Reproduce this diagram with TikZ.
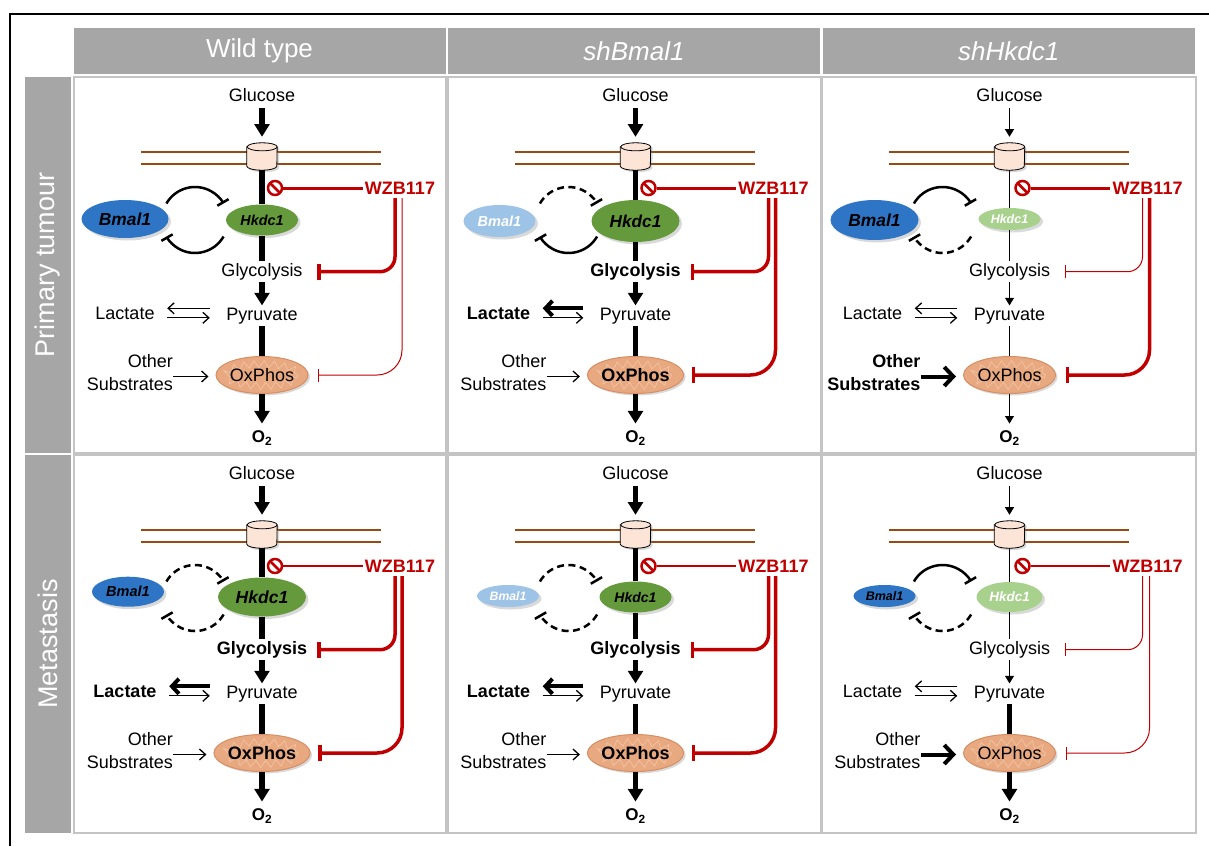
\documentclass[tikz,border=0pt]{standalone}
\usepackage{fontspec}
\setmainfont{Liberation Sans}
\usetikzlibrary{arrows.meta,shapes.geometric,shadows,decorations.pathmorphing}

\definecolor{headgray}{RGB}{166,166,166}
\definecolor{cellgray}{RGB}{196,196,196}
\definecolor{bmdark}{RGB}{46,117,197}
\definecolor{bmlight}{RGB}{157,195,230}
\definecolor{hkdark}{RGB}{100,154,60}
\definecolor{hklight}{RGB}{169,209,142}
\definecolor{wzbred}{RGB}{192,0,0}
\definecolor{membrane}{RGB}{150,75,20}
\definecolor{cylfill}{RGB}{252,228,214}
\definecolor{mitofill}{RGB}{232,168,128}
\definecolor{mitoedge}{RGB}{214,142,100}
\definecolor{mitoline}{RGB}{242,196,166}

\newcommand{\setfs}[1]{\fontsize{#1}{#1}\selectfont}

% one panel, origin at the Glucose label
\newcommand{\pathway}{%
  \draw[membrane, line width=2pt] (-121,-56.7) -- (119,-56.7);
  \draw[membrane, line width=2pt] (-121,-69) -- (119,-69);
  \node[minimum width=30pt, minimum height=27pt, inner sep=0pt] (cyl) at (0,-61.5) {};
  \draw[fill=cylfill, line width=0.8pt, drop shadow={shadow xshift=2pt, shadow yshift=-2pt, opacity=0.3}]
    ([yshift=-4pt]cyl.north west) -- ([yshift=4pt]cyl.south west)
    arc[start angle=180, end angle=360, x radius=15pt, y radius=4pt]
    -- ([yshift=-4pt]cyl.north east)
    arc[start angle=0, end angle=180, x radius=15pt, y radius=4pt] -- cycle;
  \draw[line width=0.8pt] ([yshift=-4pt]cyl.north east) arc[start angle=0, end angle=-180, x radius=15pt, y radius=4pt];
  \node[txt] (glc) at (0,0) {Glucose};
  \node[txt, glyT] (gly) at (0,-176.7) {Glycolysis};
  \node[txt] (pyr) at (0,-220.7) {Pyruvate};
  \node[txt, lacT] (lac) at (-137,-218.3) {Lactate};
  \node[mito, oxT] (ox) at (0,-280) {OxPhos};
  \node[subtxt, subT, align=right, anchor=east] (sub) at (-89,-278) {Other\\Substrates};
  \node[txt, font=\setfs{17}\bfseries] (o2) at (0,-343) {O\textsubscript{2}};
  \node[gene, bmal] (bm) {Bmal1};
  \node[gene, hkdc] (hk) {Hkdc1};
  \node[wzb] (wzb) at (138,-93) {WZB117};
  \node[stopsign] (stop) at (13,-93) {};
  % main flux
  \draw[fluxA, flow, shorten <=4pt, shorten >=6pt] (glc) -- (cyl);
  \draw[fluxA] (cyl) -- (hk);
  \draw[fluxA] (hk) -- (gly);
  \draw[fluxA, flow] (gly) -- (pyr);
  \draw[fluxB] (pyr) -- (ox);
  \draw[fluxB, flow, shorten >=5pt] (ox) -- (o2);
  % Bmal1 / Hkdc1 loop
  \coordinate (ring) at (-67,-125);
  \draw[ringline, loopA] ([shift={(150:33pt)}]ring) arc[start angle=150, end angle=30, radius=33pt];
  \draw[ringline, loopB] ([shift={(-30:33pt)}]ring) arc[start angle=-30, end angle=-150, radius=33pt];
  % lactate and substrates
  \draw[lacA, shorten <=14.5pt, shorten >=10.5pt] ([yshift=5pt]lac.east -| pyr.west) -- ([yshift=5pt]lac.east);
  \draw[barb, shorten <=10.5pt, shorten >=14.5pt] ([yshift=-4.5pt]lac.east) -- ([yshift=-4.5pt]lac.east -| pyr.west);
  \draw[subA, shorten >=7pt] ([yshift=-3.5pt]sub.east) -- ([yshift=-3.5pt]sub.east -| ox.west);
  % inhibitor
  \coordinate (rg) at (133,-103);
  \coordinate (ro) at (140,-103);
  \draw[redC] (stop) -- (wzb);
  \draw[redG, rounded corners=15pt] (rg) |- ([xshift=55pt]gly.center);
  \draw[redO, rounded corners=25pt] (ro) |- ([xshift=56pt]ox.center);
}

\begin{document}
\begin{tikzpicture}[x=1pt, y=1pt,
  txt/.style={font=\setfs{18}, inner sep=2pt},
  subtxt/.style={font=\fontsize{18}{23}\selectfont, inner sep=0pt},
  boldtxt/.style={font=\setfs{18}\bfseries},
  ef/.style={font=\setfs{#1}\bfseries\itshape},
  gene/.style={ellipse, inner sep=0pt, drop shadow={shadow xshift=2.5pt, shadow yshift=-2.5pt, opacity=0.3}},
  mito/.style={ellipse, fill=mitofill, draw=mitoedge, line width=1pt, inner sep=0pt,
    minimum width=92pt, minimum height=37pt, font=\setfs{18},
    drop shadow={shadow xshift=2pt, shadow yshift=-2pt, opacity=0.3},
    path picture={\draw[mitoline, line width=0.7pt, decorate, decoration={zigzag, segment length=10pt, amplitude=3.5pt}]
      (path picture bounding box.center) ellipse[x radius=36pt, y radius=11pt];}},
  head/.style={fill=headgray, text=white, inner sep=0pt, font=\setfs{26}, minimum height=46pt},
  rowhead/.style={fill=headgray, text=white, inner sep=0pt, font=\setfs{27}, minimum height=46pt, rotate=90},
  cell/.style={draw=cellgray, line width=1.5pt},
  flow/.style={-{Triangle[length=6pt 1.2, width=7pt 1.4]}},
  bigflux/.style={line width=5.5pt},
  smallflux/.style={line width=1.3pt},
  ringline/.style={line width=2.5pt, -{Bar[width=13pt]}},
  broken/.style={dash pattern=on 7pt off 4.5pt},
  barb/.style={line width=1.3pt, -{Straight Barb[length=6pt, width=11pt]}},
  heavybarb/.style={line width=4pt, -{Straight Barb[length=7pt, width=15pt]}},
  bigbarb/.style={line width=4pt, -{Straight Barb[length=9pt, width=19pt]}},
  redthick/.style={draw=wzbred, line width=3.5pt, -{Bar[width=16pt]}},
  redthin/.style={draw=wzbred, line width=1pt, -{Bar[width=13pt]}},
  stopsign/.style={circle, draw=wzbred, line width=2.5pt, minimum size=14pt, inner sep=0pt,
    path picture={\draw[wzbred, line width=2.5pt] (path picture bounding box.north west) -- (path picture bounding box.south east);}},
  wzb/.style={font=\setfs{18}\bfseries, text=wzbred, inner sep=2pt},
  % defaults for a panel
  loopA/.style={}, loopB/.style={},
  fluxA/.style={bigflux}, fluxB/.style={bigflux},
  glyT/.style={}, lacT/.style={}, oxT/.style={}, subT/.style={},
  lacA/.style={barb}, subA/.style={barb},
  redG/.style={redthick}, redO/.style={redthick},
  redC/.style={draw=wzbred, line width=3pt}]

\useasboundingbox (0,0) rectangle (1209,-846);
\draw[line width=2pt] (10,-846) -- (10,-14) -- (1209,-14);

% headers
\node[head, minimum width=372pt] (hwt) at (259.5,-51) {Wild type};
\node[head, minimum width=372pt] (hbm) at (634,-51) {\itshape shBmal1};
\node[head, minimum width=372pt] (hhk) at (1008.75,-51) {\itshape shHkdc1};
\node[rowhead, minimum width=376pt] (rpt) at (48,-265) {Primary tumour};
\node[rowhead, minimum width=378pt] (rmt) at (48,-644) {Metastasis};

\foreach \x/\X in {74/446, 448/821, 822/1196}
  \foreach \y/\Y in {77/453, 455/833}
    \draw[cell] (\x,-\y) rectangle (\X,-\Y);

% primary tumour
\begin{scope}[shift={(262,-95)}, redO/.style={redthin},
  bmal/.style={fill=bmdark, ef=17.4, minimum width=87pt, minimum height=38pt, at={(-137,-124)}},
  hkdc/.style={fill=hkdark, ef=14.4, minimum width=72pt, minimum height=31pt, at={(0,-125)}}]
\pathway
\end{scope}

\begin{scope}[shift={(635.5,-95)}, loopA/.style={broken},
  glyT/.style={boldtxt}, lacT/.style={boldtxt}, oxT/.style={boldtxt}, lacA/.style={heavybarb},
  bmal/.style={fill=bmlight, text=white, ef=14.5, minimum width=72pt, minimum height=32pt, at={(-136,-126)}},
  hkdc/.style={fill=hkdark, ef=17.2, minimum width=88pt, minimum height=42pt, at={(0,-126)}}]
\pathway
\end{scope}

\begin{scope}[shift={(1009.5,-95)}, loopB/.style={broken},
  fluxA/.style={smallflux}, fluxB/.style={smallflux},
  subT/.style={font=\fontsize{18}{23}\selectfont\bfseries}, subA/.style={bigbarb}, redG/.style={redthin},
  bmal/.style={fill=bmdark, ef=17.4, minimum width=88pt, minimum height=40pt, at={(-135,-125)}},
  hkdc/.style={fill=hklight, text=white, ef=12.5, minimum width=62pt, minimum height=22pt, at={(0,-124)}}]
\pathway
\end{scope}

% metastasis
\begin{scope}[shift={(262,-473)}, loopA/.style={broken}, loopB/.style={broken},
  glyT/.style={boldtxt}, lacT/.style={boldtxt}, oxT/.style={boldtxt}, lacA/.style={heavybarb},
  redC/.style={draw=wzbred, line width=2pt},
  bmal/.style={fill=bmdark, ef=14.5, minimum width=72pt, minimum height=30pt, at={(-134,-118.7)}},
  hkdc/.style={fill=hkdark, ef=17.5, minimum width=88pt, minimum height=39pt, at={(0,-124)}}]
\pathway
\end{scope}

\begin{scope}[shift={(635.5,-473)}, loopA/.style={broken}, loopB/.style={broken},
  glyT/.style={boldtxt}, lacT/.style={boldtxt}, oxT/.style={boldtxt}, lacA/.style={heavybarb},
  redC/.style={draw=wzbred, line width=2pt},
  bmal/.style={fill=bmlight, text=white, ef=12.2, minimum width=62pt, minimum height=22pt, at={(-127.5,-123)}},
  hkdc/.style={fill=hkdark, ef=14, minimum width=72pt, minimum height=31pt, at={(0,-124)}}]
\pathway
\end{scope}

\begin{scope}[shift={(1009.5,-473)}, loopB/.style={broken},
  fluxA/.style={smallflux}, subA/.style={bigbarb},
  redG/.style={redthin}, redO/.style={redthin}, redC/.style={draw=wzbred, line width=2pt},
  bmal/.style={fill=bmdark, ef=12.5, minimum width=62pt, minimum height=22pt, at={(-125,-123)}},
  hkdc/.style={fill=hklight, text=white, ef=13.5, minimum width=66pt, minimum height=30pt, at={(0,-124)}}]
\pathway
\end{scope}

\end{tikzpicture}
\end{document}
